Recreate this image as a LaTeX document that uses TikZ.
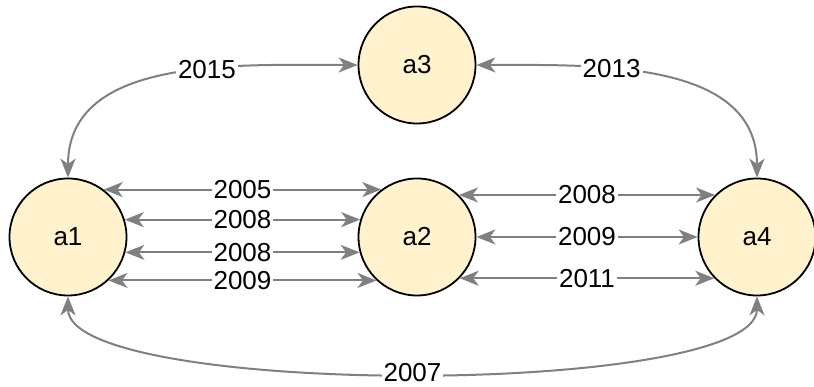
\documentclass[tikz,border=0pt]{standalone}
\usepackage{fontspec}
\setmainfont{Liberation Sans}
\usetikzlibrary{arrows.meta}

\definecolor{nodefill}{HTML}{FFF2CC}
\definecolor{linkgray}{HTML}{808080}

\begin{document}
\begin{tikzpicture}[x=1pt, y=1pt, >={Stealth[length=19pt,width=15pt,inset=5.5pt]},
    vertex/.style={circle, draw=black, line width=1.8pt, fill=nodefill, minimum size=117pt, inner sep=0pt, font=\fontsize{26}{31}\selectfont},
    link/.style={<->, draw=linkgray, line width=2pt},
    year/.style={fill=white, inner sep=2pt, text=black, font=\fontsize{26}{31}\selectfont}]
    \useasboundingbox (0,0) rectangle (814,387);

    % Authors
    \node[vertex] (a1) at (68,150) {a1};
    \node[vertex] (a2) at (417,150) {a2};
    \node[vertex] (a3) at (417,322) {a3};
    \node[vertex] (a4) at (757,150) {a4};

    % a1 -- a2
    \draw[link] (a1.53) -- node[year]{2005} (a2.127);
    \draw[link] (a1.17) -- node[year]{2008} (a2.163);
    \draw[link] (a1.-15) -- node[year]{2008} (a2.-165);
    \draw[link] (a1.-47) -- node[year]{2009} (a2.-133);

    % a2 -- a4
    \draw[link] (a2.45) -- node[year]{2008} (a4.135);
    \draw[link] (a2.0) -- node[year]{2009} (a4.180);
    \draw[link] (a2.-44) -- node[year]{2011} (a4.-136);

    % Curved links
    \draw[link] (a3.west) to[out=180, in=90] node[year, pos=0.39]{2015} (a1.north);
    \draw[link] (a3.east) to[out=0, in=90] node[year, pos=0.36]{2013} (a4.north);
    \draw[link] (a1.south) to[out=-90, in=-90, looseness=0.378] node[year]{2007} (a4.south);
\end{tikzpicture}
\end{document}
